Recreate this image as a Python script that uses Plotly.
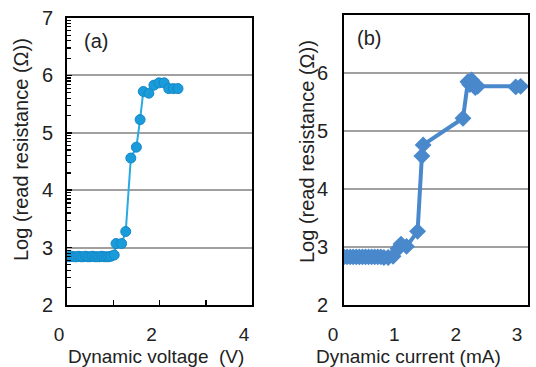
import math
import plotly.graph_objects as go

# ---- data ----
volt_a = [0.00, 0.05, 0.10, 0.15, 0.20, 0.25, 0.30, 0.35, 0.40, 0.45,
          0.50, 0.55, 0.60, 0.65, 0.70, 0.75, 0.80, 0.85, 0.90, 0.95,
          1.02, 1.06, 1.18, 1.27, 1.38, 1.50, 1.58, 1.65, 1.77, 1.88,
          1.99, 2.10, 2.20, 2.30, 2.40]
logr_a = [2.84, 2.84, 2.85, 2.84, 2.84, 2.85, 2.84, 2.84, 2.85, 2.84,
          2.84, 2.85, 2.84, 2.84, 2.84, 2.85, 2.84, 2.84, 2.84, 2.85,
          2.87, 3.07, 3.07, 3.28, 4.56, 4.75, 5.23, 5.72, 5.69, 5.83,
          5.87, 5.87, 5.77, 5.77, 5.77]

curr_b = [0.00, 0.05, 0.10, 0.15, 0.20, 0.25, 0.30, 0.35, 0.40, 0.45,
          0.50, 0.55, 0.60, 0.65, 0.72, 0.80, 0.88, 0.93, 1.02, 1.20,
          1.27, 1.29, 1.94, 2.02, 2.05, 2.08, 2.11, 2.14, 2.18, 2.80, 2.88]
logr_b = [2.83, 2.83, 2.83, 2.83, 2.83, 2.83, 2.83, 2.83, 2.83, 2.83,
          2.83, 2.83, 2.83, 2.82, 2.82, 2.84, 2.97, 3.05, 3.01, 3.27,
          4.57, 4.76, 5.22, 5.85, 5.80, 5.88, 5.80, 5.75, 5.77, 5.76, 5.77]

yticks_a = [2, 3, 4, 5, 6, 7]
yticks_b = [2, 3, 4, 5, 6]
xticks_a = [0, 2, 4]
xticks_b = [0, 1, 2, 3]

# log-style minor ticks on panel (a) y axis
minor_a = [n + math.log10(k) for n in range(2, 7) for k in range(2, 10)]

FONT = "Liberation Sans, Arial, sans-serif"
W, H = 536, 367
TXT = "#222222"

fig = go.Figure()
fig.add_trace(go.Scatter(
    x=volt_a, y=logr_a, mode="lines+markers", xaxis="x", yaxis="y",
    line=dict(color="#2aaae2", width=2),
    marker=dict(symbol="circle", size=10, color="#1a9bda",
                line=dict(color="#1488c8", width=1)),
    showlegend=False))
fig.add_trace(go.Scatter(
    x=curr_b, y=logr_b, mode="lines+markers", xaxis="x2", yaxis="y2",
    line=dict(color="#4a88cc", width=4),
    marker=dict(symbol="diamond", size=13, color="#4a88cc"),
    showlegend=False))

frame = dict(showline=True, mirror=True, linecolor="black", linewidth=2,
             zeroline=False, automargin=False)
ytickfont = dict(family=FONT, size=20, color=TXT)
xtickfont = dict(family=FONT, size=19, color=TXT)


def label(text, x, y, angle=0, size=20):
    return dict(text=text, x=x / W, y=(H - y) / H, xref="paper", yref="paper",
                xanchor="center", yanchor="middle", showarrow=False,
                textangle=angle,
                font=dict(size=size, family=FONT, color=TXT))


fig.update_layout(
    width=W, height=H, autosize=False,
    margin=dict(l=0, r=0, t=0, b=0, pad=0),
    paper_bgcolor="white", plot_bgcolor="white",
    font=dict(family=FONT, color=TXT),
    xaxis=dict(domain=[67 / W, 252 / W], range=[0, 4], anchor="y",
               tickvals=xticks_a, ticks="inside", ticklen=5, tickcolor="black",
               tickwidth=1.5,
               minor=dict(tickvals=[1, 3], ticks="inside", ticklen=5,
                          tickcolor="black", tickwidth=1.5),
               showgrid=False, tickfont=xtickfont, ticklabelshift=-8,
               ticklabelstandoff=11, **frame),
    yaxis=dict(domain=[(H - 305) / H, (H - 18) / H], range=[2, 7], anchor="x",
               tickvals=yticks_a, ticks="inside", ticklen=5, tickcolor="black",
               tickwidth=1.5,
               minor=dict(tickvals=minor_a, ticks="inside", ticklen=4,
                          tickcolor="black", tickwidth=1.2, showgrid=False),
               showgrid=True, gridcolor="#a0a0a0", gridwidth=2,
               tickfont=ytickfont, ticklabelstandoff=8, **frame),
    xaxis2=dict(domain=[344 / W, 528 / W], range=[0, 3], anchor="y2",
                tickvals=xticks_b, ticks="", showgrid=False,
                tickfont=xtickfont, ticklabelshift=-11, ticklabelstandoff=11,
                **frame),
    yaxis2=dict(domain=[(H - 305) / H, (H - 15) / H], range=[2, 7], anchor="x2",
                tickvals=yticks_b, ticks="", showgrid=True,
                gridcolor="#a0a0a0", gridwidth=2,
                tickfont=ytickfont, ticklabelstandoff=10, **frame),
    annotations=[
        label("(a)", 96, 41),
        label("(b)", 369, 38),
        label("Dynamic voltage  (V)", 156, 356, size=19),
        label("Dynamic current (mA)", 408, 356, size=19),
        label("Log (read resistance (Ω))", 21, 150, -90),
        label("Log (read resistance (Ω))", 307, 152, -90),
    ],
)

fig.write_html("out.html",
               config={"displayModeBar": False, "staticPlot": True},
               post_script="document.body.style.margin='0px';")
